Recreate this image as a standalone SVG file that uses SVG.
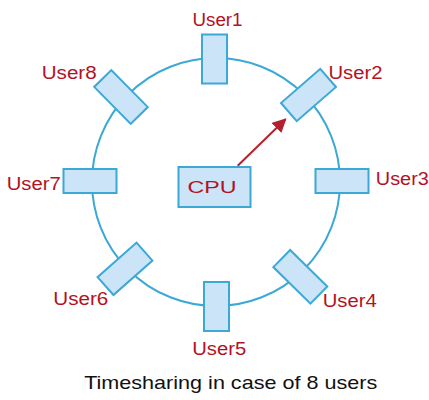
<svg xmlns="http://www.w3.org/2000/svg" width="429" height="400" viewBox="0 0 429 400">
<defs>
<style>
.box{fill:#cce4f7;stroke:#3ba8d6;stroke-width:2}
.lbl{font-family:"Liberation Sans",Arial,sans-serif;font-size:18px;fill:#b3121f}
.cap{font-family:"Liberation Sans",Arial,sans-serif;font-size:19px;fill:#111}
</style>
<marker id="ah" viewBox="0 0 10 10" refX="9" refY="5" markerWidth="7" markerHeight="7" orient="auto" markerUnits="strokeWidth">
<path d="M0,0 L10,5 L0,10 Z" fill="#b5202e"/>
</marker>
</defs>
<g id="ring"><circle cx="216" cy="182" r="124" fill="none" stroke="#3ba8d6" stroke-width="2"/></g>
<g id="connectors">
<line x1="237.7" y1="165.7" x2="285.5" y2="119.2" stroke="#b5202e" stroke-width="2" marker-end="url(#ah)"/>
</g>
<g id="cpu"><rect class="box" x="178.5" y="167" width="72" height="40"/><text class="lbl" x="212" y="193.3" text-anchor="middle" textLength="49" lengthAdjust="spacingAndGlyphs" style="font-size:16px">CPU</text></g>
<g id="user1"><rect class="box" x="202" y="34.5" width="25" height="49"/><text class="lbl" x="217.5" y="26" text-anchor="middle" textLength="50" lengthAdjust="spacingAndGlyphs">User1</text></g>
<g id="user2"><rect class="box" x="-26" y="-12" width="52" height="24" transform="translate(308.5,95) rotate(-41)"/><text class="lbl" x="355.5" y="78.7" text-anchor="middle" textLength="54" lengthAdjust="spacingAndGlyphs">User2</text></g>
<g id="user3"><rect class="box" x="315.5" y="169" width="53" height="24"/><text class="lbl" x="402.3" y="185" text-anchor="middle" textLength="53" lengthAdjust="spacingAndGlyphs">User3</text></g>
<g id="user4"><rect class="box" x="-26" y="-12" width="52" height="24" transform="translate(300.3,276.8) rotate(44.5)"/><text class="lbl" x="349.7" y="306.7" text-anchor="middle" textLength="54" lengthAdjust="spacingAndGlyphs">User4</text></g>
<g id="user5"><rect class="box" x="204" y="282" width="25" height="49"/><text class="lbl" x="219.2" y="355" text-anchor="middle" textLength="54" lengthAdjust="spacingAndGlyphs">User5</text></g>
<g id="user6"><rect class="box" x="-26" y="-12" width="52" height="24" transform="translate(125,268.8) rotate(-41.5)"/><text class="lbl" x="80.8" y="305" text-anchor="middle" textLength="55" lengthAdjust="spacingAndGlyphs">User6</text></g>
<g id="user7"><rect class="box" x="63.5" y="169" width="53" height="24"/><text class="lbl" x="33.7" y="190" text-anchor="middle" textLength="54" lengthAdjust="spacingAndGlyphs">User7</text></g>
<g id="user8"><rect class="box" x="-26" y="-12" width="52" height="24" transform="translate(121,97) rotate(45.5)"/><text class="lbl" x="69.2" y="78.7" text-anchor="middle" textLength="55" lengthAdjust="spacingAndGlyphs">User8</text></g>
<g id="caption"><text class="cap" x="230.7" y="389.3" text-anchor="middle" textLength="293" lengthAdjust="spacingAndGlyphs">Timesharing in case of 8 users</text></g>
</svg>
